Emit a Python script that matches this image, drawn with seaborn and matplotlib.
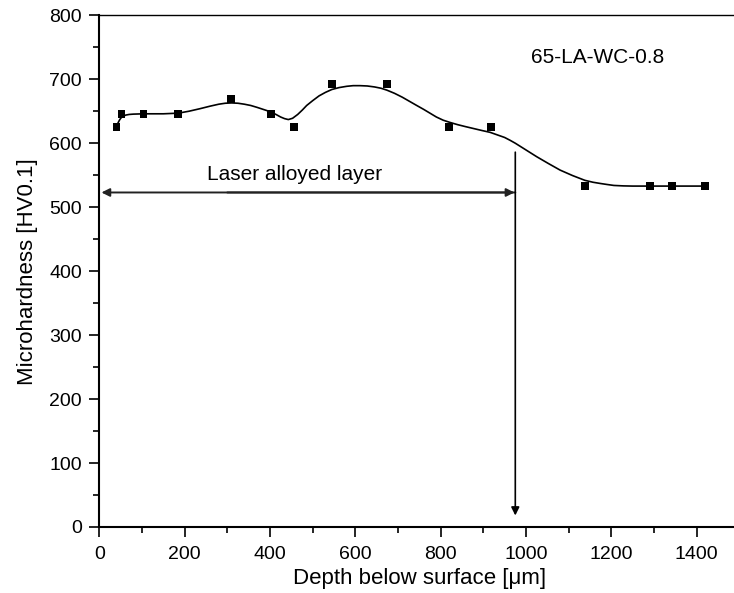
import matplotlib
matplotlib.use("Agg")
import matplotlib.pyplot as plt
import seaborn as sns
import pandas as pd

# measured points
depth = [40, 52, 104, 184, 309, 402, 456, 545, 674, 820, 918, 1138, 1291, 1342, 1419]
hardness = [625, 646, 646, 646, 669, 646, 625, 693, 693, 625, 625, 533, 533, 533, 533]

# smooth fitted curve
curve_x = [40, 44, 48, 52, 57, 62, 70, 80, 104, 150, 185, 210, 236, 260, 280, 295, 310,
           325, 340, 355, 370, 386, 402, 414, 425, 434, 443, 453, 465, 476, 486, 500,
           515, 530, 545, 562, 580, 595, 611, 628, 645, 660, 674, 692, 710, 727, 744,
           760, 775, 790, 806, 822, 840, 858, 877, 896, 916, 933, 950, 963, 975, 1000,
           1025, 1052, 1080, 1109, 1138, 1157, 1175, 1190, 1206, 1228, 1250, 1291, 1419]
curve_y = [625, 632, 637, 640.5, 642.5, 644, 645, 645.5, 646, 646, 647, 650, 654, 658, 661,
           662.5, 663, 662.5, 661, 659, 656, 652.5, 649, 645, 641, 638.5, 637, 639, 645,
           652, 659, 666.5, 674, 679.5, 684, 687, 689, 690, 690, 689.5, 688, 686, 683,
           678, 672, 665.5, 659, 653, 647, 641, 636, 632.5, 629, 626, 623, 620, 617, 613,
           609, 604.5, 600, 589.5, 579, 568.5, 558, 549.5, 542, 539, 537, 535.5, 534,
           533.3, 533, 533, 533]

layer_depth = 975
layer_arrow_y = 523

sns.set_style("ticks")
plt.rcParams["font.family"] = ["Liberation Sans", "DejaVu Sans"]
plt.rcParams["text.color"] = "black"
plt.rcParams["axes.labelcolor"] = "black"
plt.rcParams["xtick.color"] = "black"
plt.rcParams["ytick.color"] = "black"
plt.rcParams["axes.edgecolor"] = "black"

fig = plt.figure(figsize=(7.34, 5.93), dpi=100)
ax = fig.add_axes([0.1353, 0.1113, 0.8719, 0.8629])

points = pd.DataFrame({"depth": depth, "hardness": hardness})
curve = pd.DataFrame({"x": curve_x, "y": curve_y})

sns.lineplot(data=curve, x="x", y="y", ax=ax, color="black", linewidth=1.2,
             sort=False, estimator=None)
sns.scatterplot(data=points, x="depth", y="hardness", ax=ax, marker="s",
                color="black", s=30, edgecolor="none", zorder=3)

# laser alloyed layer arrows
ax.annotate("", xy=(5, layer_arrow_y), xytext=(layer_depth, layer_arrow_y),
            arrowprops=dict(arrowstyle="-|>", color="#222222", lw=1.4,
                            mutation_scale=12, shrinkA=0, shrinkB=0))
ax.annotate("", xy=(layer_depth - 2, layer_arrow_y), xytext=(300, layer_arrow_y),
            arrowprops=dict(arrowstyle="-|>", color="#222222", lw=1.4,
                            mutation_scale=12, shrinkA=0, shrinkB=0))
ax.annotate("", xy=(layer_depth, 18), xytext=(layer_depth, 586),
            arrowprops=dict(arrowstyle="-|>", color="black", lw=1.2,
                            mutation_scale=12, shrinkA=0, shrinkB=0))

ax.text(458, 543, "Laser alloyed layer", ha="center", va="baseline", fontsize=15)
ax.text(1169, 726, "65-LA-WC-0.8", ha="center", va="baseline", fontsize=15)

ax.set_xlim(0, 1500)
ax.set_ylim(0, 800)
ax.set_xticks(range(0, 1401, 200))
ax.set_xticks(range(100, 1500, 200), minor=True)
ax.set_yticks(range(0, 801, 100))
ax.set_yticks(range(50, 800, 100), minor=True)
ax.tick_params(which="major", direction="out", length=7.5, width=1.2, labelsize=14, pad=5)
ax.tick_params(which="minor", direction="out", length=4, width=1.2)
ax.tick_params(axis="x", which="major", pad=6)

ax.set_xlabel("Depth below surface [μm]", fontsize=16, labelpad=4)
ax.set_ylabel("Microhardness [HV0.1]", fontsize=16, labelpad=8)

for side in ["left", "bottom"]:
    ax.spines[side].set_linewidth(1.5)
ax.spines["top"].set_visible(True)
ax.spines["top"].set_linewidth(1.0)
ax.spines["right"].set_visible(False)

fig.savefig("out.png", dpi=100)
